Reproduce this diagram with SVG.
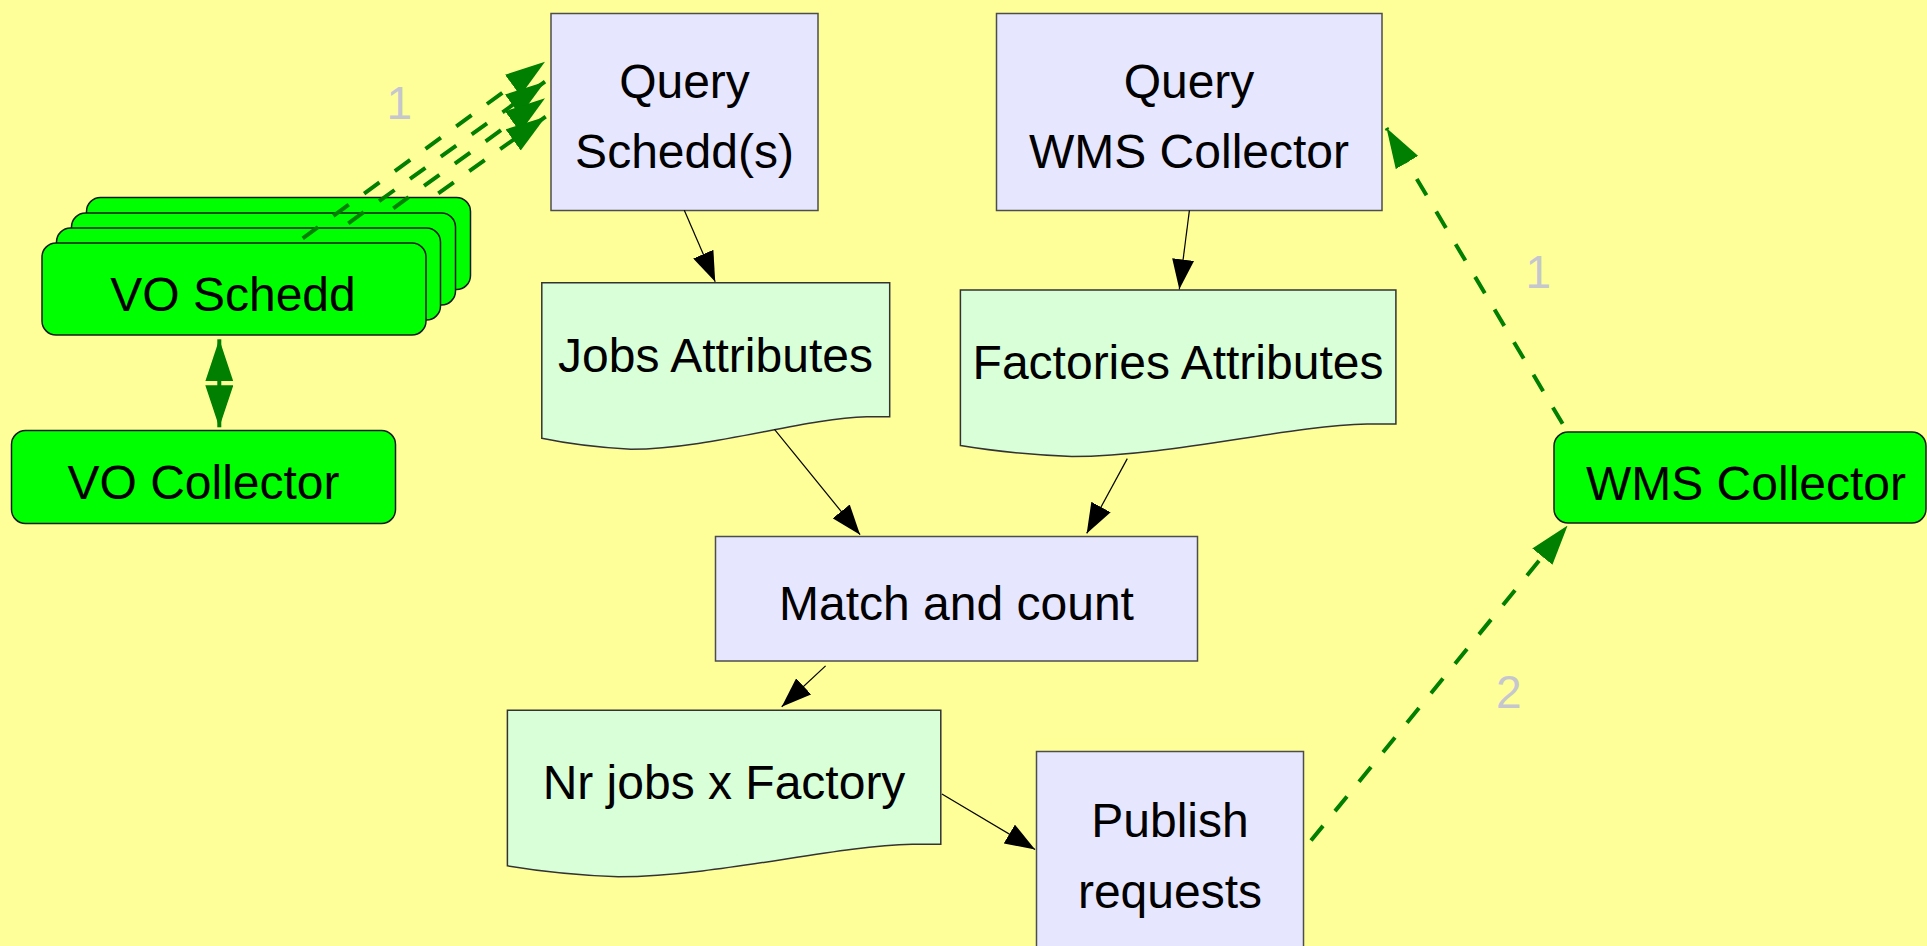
<svg xmlns="http://www.w3.org/2000/svg" width="1927" height="946" viewBox="0 0 1927 946">
<defs>
<style>
.bg{fill:#ffff99}
.proc{fill:#e6e6ff;stroke:#4d4d4d;stroke-width:1.5}
.doc{fill:#d9ffd9;stroke:#333333;stroke-width:1.5}
.grn{fill:#00ff00;stroke:#1a1a1a;stroke-width:1.5}
.t{font-family:"Liberation Sans",Arial,sans-serif;font-size:48px;fill:#000;text-anchor:middle}
.lbl{font-family:"Liberation Sans",Arial,sans-serif;font-size:46px;fill:#c6c6ce}
.blk{stroke:#000;stroke-width:1.2;fill:none;marker-end:url(#ab)}
.dsh{stroke:#007f00;stroke-width:4;fill:none;stroke-dasharray:19 19;marker-end:url(#ag)}
</style>
<marker id="ab" markerUnits="userSpaceOnUse" viewBox="0 -11 30 22" refX="30" refY="0" markerWidth="30" markerHeight="22" orient="auto">
<path d="M0,-11 L30,0 L0,11 Z" fill="#000"/>
</marker>
<marker id="ag" markerUnits="userSpaceOnUse" viewBox="0 -13 40 26" refX="40" refY="0" markerWidth="40" markerHeight="26" orient="auto">
<path d="M0,-13 L40,0 L0,13 Z" fill="#007f00"/>
</marker>
<marker id="ad" markerUnits="userSpaceOnUse" viewBox="0 -14 42 28" refX="42" refY="0" markerWidth="42" markerHeight="28" orient="auto-start-reverse">
<path d="M0,-14 L42,0 L0,14 Z" fill="#007f00"/>
</marker>
</defs>
<rect class="bg" x="0" y="0" width="1927" height="946"/>

<g id="vo-schedd">
<rect class="grn" x="86.5" y="197.5" width="384" height="92" rx="14"/>
<rect class="grn" x="71.5" y="213" width="384" height="92" rx="14"/>
<rect class="grn" x="56.5" y="228" width="384" height="92" rx="14"/>
<rect class="grn" x="42" y="243" width="384" height="92" rx="14"/>
<text class="t" x="233" y="311">VO Schedd</text>
</g>

<g id="vo-collector">
<rect class="grn" x="11.5" y="430.5" width="384" height="93" rx="14"/>
<text class="t" x="203.5" y="499">VO Collector</text>
</g>

<g id="query-schedd">
<rect class="proc" x="551" y="13.5" width="267" height="197"/>
<text class="t" x="684.5" y="98">Query</text>
<text class="t" x="684.5" y="168">Schedd(s)</text>
</g>

<g id="query-wms">
<rect class="proc" x="996.5" y="13.5" width="385.5" height="197"/>
<text class="t" x="1189" y="98">Query</text>
<text class="t" x="1189" y="168">WMS Collector</text>
</g>

<g id="jobs-attributes">
<path class="doc" d="M541.8,282.7 H889.7 V416.7 H866.7 C801.7,418.7 711.9,448.7 630.9,449.3 Q581.8,446.7 541.8,438.3 Z"/>
<text class="t" x="715.5" y="372">Jobs Attributes</text>
</g>

<g id="factories-attributes">
<path class="doc" d="M960.4,290 H1395.9 V424 H1367.2 C1285.7,426 1173.4,456 1071.9,456.6 Q1010.5,454 960.4,445.6 Z"/>
<text class="t" x="1178" y="379">Factories Attributes</text>
</g>

<g id="match-count">
<rect class="proc" x="715.5" y="536.5" width="482" height="124.5"/>
<text class="t" x="956.5" y="620">Match and count</text>
</g>

<g id="nr-jobs">
<path class="doc" d="M507.4,710.2 H940.8 V844.2 H912.2 C831.1,846.2 719.3,876.2 618.4,876.8 Q557.2,874.2 507.4,865.8 Z"/>
<text class="t" x="724" y="799">Nr jobs x Factory</text>
</g>

<g id="publish-requests">
<rect class="proc" x="1036.5" y="751.5" width="267" height="220"/>
<text class="t" x="1170" y="837">Publish</text>
<text class="t" x="1170" y="908">requests</text>
</g>

<g id="wms-collector">
<rect class="grn" x="1554" y="432" width="372" height="91" rx="14"/>
<text class="t" x="1746" y="500">WMS Collector</text>
</g>

<g id="connectors">
<line class="blk" x1="684.3" y1="210.3" x2="715.2" y2="281.7"/>
<line class="blk" x1="1189.4" y1="210.3" x2="1179.3" y2="289.3"/>
<line class="blk" x1="774.5" y1="429.4" x2="860.1" y2="534.7"/>
<line class="blk" x1="1127.3" y1="458.6" x2="1086.7" y2="533.4"/>
<line class="blk" x1="825.6" y1="665.9" x2="781.7" y2="706.8"/>
<line class="blk" x1="941.9" y1="794" x2="1035.1" y2="849.4"/>
<line stroke="#007f00" stroke-width="4" marker-start="url(#ad)" marker-end="url(#ad)" x1="219.3" y1="339.3" x2="219.3" y2="427.3"/>
<line class="dsh" x1="302.7" y1="238.3" x2="545" y2="61.7"/>
<line class="dsh" x1="348.3" y1="223.3" x2="545" y2="81.7"/>
<line class="dsh" x1="393.3" y1="208.3" x2="545" y2="98.3"/>
<line class="dsh" x1="438.3" y1="193.3" x2="545.7" y2="116.7"/>
<line class="dsh" x1="1562.6" y1="423.8" x2="1386.5" y2="128.1"/>
<line class="dsh" x1="1311" y1="840.6" x2="1567.6" y2="525.6"/>
<text class="lbl" x="386.5" y="119">1</text>
<text class="lbl" x="1525.5" y="288">1</text>
<text class="lbl" x="1496" y="708">2</text>
</g>
</svg>
